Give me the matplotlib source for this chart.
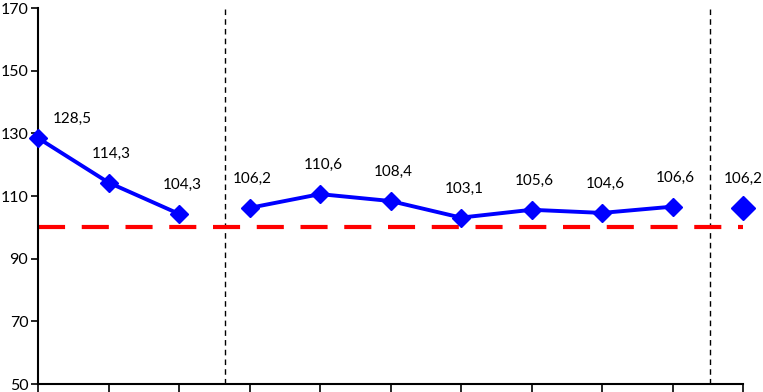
import matplotlib
matplotlib.use("Agg")
import matplotlib.pyplot as plt

values = [128.5, 114.3, 104.3, 106.2, 110.6, 108.4, 103.1, 105.6, 104.6, 106.6, 106.2]
labels = ["128,5", "114,3", "104,3", "106,2", "110,6", "108,4", "103,1", "105,6", "104,6", "106,6", "106,2"]
segments = [(0, 3), (3, 10)]
single = 10
vlines = [2.65, 9.53]
ref_level = 100
yticks = [50, 70, 90, 110, 130, 150, 170]

plt.rcParams['font.family'] = ['Lato', 'DejaVu Sans']

fig = plt.figure(figsize=(7.63, 3.92), dpi=100)
ax = fig.add_axes([38/763, 8/392, (743-38)/763, (384-8)/392])

x = list(range(len(values)))
for s, e in segments:
    ax.plot(x[s:e], values[s:e], color='#0000FF', lw=2.8, marker='D', ms=9,
            clip_on=False, zorder=3)
ax.plot([x[single]], [values[single]], color='#0000FF', marker='D', ms=12,
        linestyle='none', clip_on=False, zorder=3)

ax.plot([0, len(values) - 1], [ref_level, ref_level], color='#FF0000', lw=3,
        dashes=(6.5, 4), clip_on=False, zorder=2)

for v in vlines:
    ax.axvline(v, color='black', lw=1, dashes=(4, 3), zorder=1)

n = len(values)
for i, (v, t) in enumerate(zip(values, labels)):
    if i == 0:
        dx, dy = 34, 19
    elif i == n - 1:
        dx, dy = 0, 29
    else:
        dx, dy = 3, 29
    ax.annotate(t, (i, v), xytext=(dx, dy), textcoords='offset pixels',
                ha='center', va='center', fontsize=11, color='black')

ax.set_xlim(0, n - 1)
ax.set_ylim(50, 170)
ax.set_yticks(yticks)
ax.set_xticks(x)
ax.set_xticklabels([])
ax.tick_params(axis='y', labelsize=11.5, length=5, width=1.2, pad=2, direction='out')
ax.tick_params(axis='x', length=6, width=1.2, direction='out')
ax.spines['top'].set_visible(False)
ax.spines['right'].set_visible(False)
ax.spines['left'].set_linewidth(1.5)
ax.spines['bottom'].set_linewidth(1.5)

fig.savefig('out.png', dpi=100)
